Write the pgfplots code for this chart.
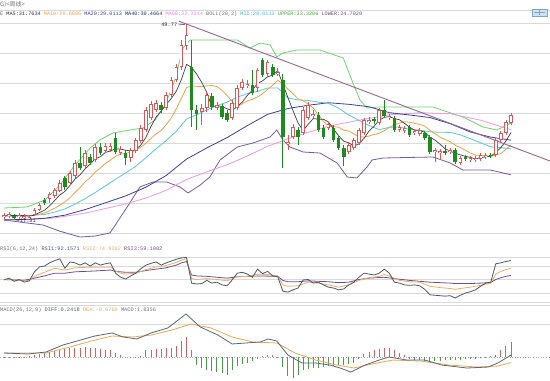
\documentclass[border=0pt]{standalone}
\usepackage{pgfplots}
\pgfplotsset{compat=1.18}
\usepackage{pgfplotstable}
\usepackage{fontspec}
\setmainfont{Liberation Sans}
\setmonofont{Liberation Mono}
\newfontfamily\cjk{Noto Sans CJK SC}

\definecolor{gridc}{HTML}{D9D9D9}
\definecolor{candR}{HTML}{D65A5A}
\definecolor{candG}{HTML}{1F8A1F}
\definecolor{maFive}{HTML}{3C3C46}
\definecolor{maTen}{HTML}{EBA24B}
\definecolor{maMid}{HTML}{5EC3DC}
\definecolor{maForty}{HTML}{3F3F8F}
\definecolor{maSixty}{HTML}{E79BE6}
\definecolor{bUp}{HTML}{72CF72}
\definecolor{bLow}{HTML}{7A5A9A}
\definecolor{trend}{HTML}{8E6A8E}
\definecolor{rsiA}{HTML}{4A5868}
\definecolor{rsiB}{HTML}{E3B071}
\definecolor{rsiC}{HTML}{6E4F84}
\definecolor{diffc}{HTML}{56687A}
\definecolor{deac}{HTML}{E8A85A}
\definecolor{barR}{HTML}{C96464}
\definecolor{barG}{HTML}{4E9A4E}
\definecolor{tgray}{HTML}{707070}
\definecolor{tdark}{HTML}{2A2A40}
\definecolor{tblue}{HTML}{3A3A9A}
\definecolor{tnavy}{HTML}{26266A}
\definecolor{tpink}{HTML}{DD88DD}
\definecolor{tcyan}{HTML}{40B8D8}
\definecolor{tgreen}{HTML}{40A840}
\definecolor{tpurp}{HTML}{6A4A8A}
\definecolor{iconF}{HTML}{CFE0F0}
\definecolor{iconB}{HTML}{7FA6C8}

\newcommand{\hf}{\ttfamily\fontsize{5.3bp}{6bp}\selectfont}

\pgfplotsset{
  panel/.style={scale only axis, width=550bp, xmin=-0.789, xmax=107.69,
    xtick=\empty, axis line style={draw=none}, major tick length=0pt,
    yticklabel=\empty, ymajorgrids, grid style={color=gridc, line width=0.8bp}},
  ebar/.style 2 args={only marks, mark=*, mark size=0pt,
    mark options={draw opacity=0, fill opacity=0}, forget plot,
    error bars/.cd, y dir=plus, y explicit, error mark=none,
    error bar style={line width=#2, color=#1, line cap=butt}},
}

% ---------- candles (i open high low close) ----------
\pgfplotstableread{
i o h l c
0 17.67 18.33 17.33 18.00
1 17.83 18.50 17.50 18.17
3 17.67 18.33 17.33 18.00
4 17.50 18.17 17.33 17.83
5 17.33 18.00 17.40 17.67
6 18.00 19.17 17.83 18.83
7 18.83 20.00 18.67 19.67
9 20.67 21.83 20.00 21.50
10 21.17 22.50 20.83 22.17
11 22.00 23.83 21.83 23.33
13 23.33 25.33 23.00 25.00
14 24.50 27.17 24.17 26.67
16 26.17 28.83 25.83 28.33
18 27.17 29.83 26.83 29.33
20 28.67 30.00 28.33 29.50
21 28.83 30.00 28.50 29.50
23 28.33 29.50 28.00 29.00
25 27.50 29.17 26.83 28.83
26 28.67 30.83 28.33 30.50
27 30.33 33.00 30.00 32.50
28 32.17 36.00 31.83 35.50
29 34.17 37.00 33.83 36.50
30 35.50 37.17 35.17 36.67
32 35.83 38.50 35.50 38.00
33 38.00 41.00 37.67 40.50
34 40.50 43.17 40.17 42.67
35 42.67 47.17 42.17 46.33
36 46.17 49.77 45.50 48.00
39 35.17 36.50 33.00 35.83
40 35.83 38.50 35.17 38.00
42 35.83 36.83 35.50 36.33
45 34.17 37.17 33.83 36.67
46 35.83 39.67 35.50 39.17
47 39.17 40.67 38.83 40.17
48 39.50 40.50 39.17 39.83
50 39.17 42.50 38.50 42.17
52 41.50 43.83 41.17 43.50
54 41.50 42.50 41.17 41.83
56 29.83 31.33 28.83 30.17
57 31.00 33.17 30.67 32.67
59 31.67 36.00 31.33 35.50
60 34.17 36.83 33.83 36.33
61 34.50 35.50 34.17 34.83
64 32.50 33.50 32.17 33.17
68 28.50 30.17 28.17 29.67
69 29.17 30.83 28.83 30.50
70 30.00 32.50 29.67 32.17
71 31.67 34.17 31.33 33.83
72 33.50 34.33 33.17 33.83
74 33.33 35.83 33.00 35.50
76 34.17 34.83 33.83 34.50
78 32.17 33.00 31.83 32.67
79 32.00 32.83 31.67 32.50
81 31.67 32.33 31.33 32.00
82 31.50 32.50 31.17 32.17
85 28.50 29.17 26.83 28.83
86 28.33 29.00 27.17 28.67
88 28.50 29.17 28.17 28.83
90 26.67 27.83 26.33 27.50
92 27.17 27.83 26.83 27.50
93 27.17 27.83 26.83 27.50
94 27.33 28.33 27.00 28.00
95 27.67 28.33 27.33 28.00
97 28.00 30.83 27.67 30.50
98 30.50 32.00 30.17 31.67
99 31.67 33.83 31.33 33.50
100 33.33 35.00 33.00 34.67
}\redc

\pgfplotstableread{
i o h l c
2 17.83 18.17 17.31 17.50
8 20.50 20.83 19.67 20.00
12 24.17 24.50 22.17 22.67
15 26.67 29.33 25.50 25.83
17 27.67 28.17 26.33 26.67
19 29.33 30.00 28.00 28.33
22 30.83 31.67 28.17 28.50
24 28.33 28.83 26.33 27.50
31 36.33 36.83 35.00 35.50
37 42.67 47.17 32.67 35.50
38 35.50 36.33 32.17 34.83
41 37.83 38.33 35.50 36.00
43 36.17 36.50 34.00 34.33
44 35.00 35.50 33.50 33.83
49 39.67 42.17 38.00 38.33
51 43.83 44.17 41.00 41.33
53 42.67 43.17 41.00 41.33
55 40.50 41.50 25.83 31.00
58 32.17 32.67 29.67 31.00
62 34.67 35.17 31.83 32.17
63 32.50 33.00 30.67 31.00
65 32.50 33.00 30.17 30.50
66 30.83 31.33 28.83 29.17
67 29.17 29.67 26.17 27.67
73 34.00 34.33 33.17 33.67
75 35.50 37.17 34.17 34.50
77 34.17 34.50 31.83 32.17
80 32.67 33.00 31.00 31.33
83 31.67 32.00 30.50 30.83
84 31.00 31.33 28.17 28.50
87 28.67 29.67 28.00 28.33
89 28.83 29.17 26.50 26.83
91 27.67 28.00 27.00 27.33
96 28.00 28.33 27.50 27.83
}\greenc

% ---------- moving averages ----------
\pgfplotstableread{
i v
0 17.92
1 17.95
2 17.90
3 17.92
4 17.90
5 17.83
6 17.97
7 18.40
8 18.80
9 19.53
10 20.43
11 21.33
12 21.93
13 22.93
14 23.97
15 24.70
16 25.70
17 26.50
18 27.37
19 27.70
20 28.43
21 28.67
22 29.03
23 28.97
24 28.80
25 28.67
26 28.87
27 29.67
28 30.97
29 32.77
30 34.33
31 35.33
32 36.43
33 37.43
34 38.67
35 40.60
36 43.10
37 42.60
38 41.47
39 40.10
40 38.43
41 36.03
42 36.20
43 36.10
44 35.70
45 35.43
46 36.07
47 36.83
48 37.93
49 38.83
50 39.93
51 40.37
52 41.03
53 41.33
54 42.03
55 39.80
56 37.57
57 35.40
58 33.33
59 32.07
60 33.13
61 34.07
62 33.97
63 33.97
64 33.50
65 32.33
66 31.20
67 30.30
68 30.03
69 29.50
70 29.83
71 30.77
72 32.00
73 32.80
74 33.80
75 34.27
76 34.40
77 34.07
78 33.87
79 33.27
80 32.63
81 32.13
82 32.13
83 31.77
84 30.97
85 30.47
86 29.80
87 29.03
88 28.63
89 28.30
90 28.03
91 27.77
92 27.60
93 27.33
94 27.57
95 27.67
96 27.80
97 28.40
98 29.23
99 30.33
100 31.76
}\mafive

\pgfplotstableread{
i v
0 17.83
5 17.85
7 18.13
8 18.35
9 18.72
10 19.13
11 19.65
12 20.17
13 20.87
14 21.75
15 22.57
16 23.52
17 24.22
18 25.15
19 25.83
20 26.57
21 27.18
22 27.77
23 28.17
24 28.25
25 28.55
26 28.77
27 29.35
28 29.97
29 30.78
30 31.50
31 32.10
32 33.05
33 34.20
34 35.72
35 37.47
36 39.22
37 39.52
38 39.45
39 39.38
40 39.52
41 39.57
42 39.40
43 38.78
44 37.90
45 36.93
46 36.05
47 36.52
48 37.02
49 37.27
50 37.68
51 38.22
52 38.93
53 39.63
54 40.43
55 39.87
56 38.97
57 38.22
58 37.33
59 37.05
60 36.47
61 35.82
62 34.68
63 33.65
64 32.78
65 32.73
66 32.63
67 32.13
68 32.00
69 31.50
70 31.08
71 30.98
72 31.15
73 31.42
74 31.65
75 32.05
76 32.58
77 33.03
78 33.33
79 33.53
80 33.45
81 33.27
82 33.10
83 32.82
84 32.12
85 31.55
86 30.97
87 30.58
88 30.20
89 29.63
90 29.25
91 28.78
92 28.32
93 27.98
94 27.93
95 27.85
96 27.77
97 27.98
98 28.27
99 28.93
100 29.69
}\maten

\pgfplotstableread{
i v
0 17.84
4 17.85
8 18.09
10 18.49
12 19.01
14 19.81
16 20.73
18 21.75
20 22.85
22 23.97
24 25.00
26 26.14
28 27.56
30 29.03
32 30.41
34 31.98
36 33.99
38 34.71
40 35.51
42 36.23
44 36.81
46 37.63
48 38.23
50 38.60
52 39.17
54 39.17
55 38.40
56 37.51
58 37.18
60 37.08
62 36.81
64 36.61
66 35.80
68 34.67
70 33.78
72 32.92
74 32.22
76 32.61
78 32.67
80 32.27
82 32.13
84 31.88
86 31.78
88 31.77
90 31.35
92 30.71
94 30.03
96 29.37
98 29.23
100 29.01
}\mamid

\pgfplotstableread{
i v
0 17.18
4 17.26
8 17.45
12 17.97
16 18.90
20 20.03
24 21.18
28 22.64
32 24.59
36 27.32
40 29.18
44 30.90
48 32.90
52 34.78
56 35.75
60 36.29
64 36.71
68 36.45
72 36.04
76 35.06
80 34.67
84 34.25
88 33.22
92 31.82
96 30.98
100 30.47
}\maforty

\pgfplotstableread{
i v
0 17.18
5 17.23
10 17.51
16 18.32
20 19.08
24 19.84
28 20.82
32 22.12
36 23.93
40 25.19
44 26.38
48 27.84
52 29.45
56 30.71
59 31.51
64 32.80
70 33.80
76 34.70
82 35.05
88 34.88
94 33.80
100 32.22
}\masixty

\pgfplotstableread{
i v
0 19.17
4.5 19.33
8.1 20.50
11 23.00
14 26.33
17 29.17
18.9 30.50
21.5 31.67
24.9 32.17
27.4 32.50
29.8 33.83
31.8 36.33
33.7 40.50
35.3 45.83
36.7 47.17
46 47.17
48.5 45.83
50.5 46.67
52.5 46.33
53.8 44.33
55 45.00
57.8 45.50
62.3 45.50
66.9 44.17
68.6 40.50
70.2 37.17
71.6 35.83
73.6 36.00
78.1 36.00
84.6 36.00
90.5 34.33
94.5 32.67
97.2 32.17
100 33.32
}\bollup

\pgfplotstableread{
i v
0 17.17
7.7 16.33
11 15.30
15 14.33
18 14.50
20.9 15.00
24.3 19.33
26.8 22.67
29.4 23.50
32.1 23.50
34.7 22.67
36.3 21.67
38.7 23.00
40.6 24.33
42.6 27.17
46 29.33
49.1 30.00
52.5 31.00
53.8 32.17
55 30.50
56.4 29.33
59 28.50
62.3 28.33
65.7 26.67
67.7 24.33
69.6 24.17
71.6 26.00
72.6 27.17
74.8 27.50
84.6 27.67
88 26.67
90.5 25.50
95.9 25.50
100 24.70
}\bolllow

% ---------- RSI ----------
\pgfplotstableread{
i v
0 49
1 53
2 46
3 50
4 44
5 47
6 67
7 78
8 80
9 87
10 92
11 96
12 75
13 89
14 87
15 82
16 87
17 80
18 87
19 82
20 85
21 87
22 64
23 55
24 51
25 58
26 64
27 74
28 82
29 86
30 89
31 82
32 87
33 91
34 95
35 98
36 99
37 42
38 40
39 41
40 48
41 42
42 44
43 38
44 36
45 49
46 64
47 66
48 62
49 55
50 73
51 63
52 68
53 58
54 56
55 24
56 22
57 27
58 31
59 49
60 50
61 42
62 44
63 38
64 33
65 31
66 27
67 29
68 38
69 44
70 55
71 64
72 62
73 60
74 64
75 73
76 64
77 44
78 42
79 38
80 37
81 38
82 36
83 28
84 16
85 15
86 14
87 13
88 14
89 9
90 15
91 20
92 23
93 27
94 35
95 42
96 44
97 85
98 87
99 90
100 92.16
}\rsione

\pgfplotstableread{
i v
0 50
2 49
4 47
5 48
6 57
8 66
10 75
12 71
14 76
16 77
18 77
20 77
21 78
22 69
23 64
24 62
26 64
28 72
30 78
32 81
34 88
35 93
36 96
37 52
38 50
40 52
42 50
44 47
46 56
48 57
50 62
52 61
54 58
55 38
56 35
58 36
60 44
62 42
64 38
66 33
68 38
70 48
72 54
74 57
75 61
76 58
78 48
80 45
82 44
84 35
86 32
88 30
89 28
90 30
92 33
94 37
96 42
97 62
98 68
99 72
100 74.92
}\rsitwo

\pgfplotstableread{
i v
0 50
4 48
6 53
8 58
10 64
12 64
14 67
18 69
21 71
22 68
24 66
26 66
28 70
30 73
32 76
34 82
35 87
36 90
37 60
38 58
40 57
44 53
46 56
50 58
54 57
55 48
56 45
58 45
60 47
64 45
66 43
68 44
70 50
72 53
75 55
77 52
80 48
84 44
88 42
89 41
92 41
96 43
97 50
98 54
99 57
100 59.11
}\rsithree

% ---------- MACD ----------
\pgfplotstableread{
i v
0 0.49
4.7 0.37
8.3 0.61
11.6 1.46
14.4 1.95
17.9 2.56
21.3 2.93
23.5 2.44
26.2 2.20
29 2.93
32.3 3.54
35.9 5.24
38.7 3.66
42.2 2.68
45 1.59
47.7 1.71
50.5 1.83
52.1 2.20
53.8 1.95
56 0.24
58.8 -0.73
61.5 -0.73
64.3 -0.98
66.3 -1.34
68.4 -1.83
71.2 -0.98
74 -0.37
75.9 0.00
79.5 -0.37
83 -0.37
86.4 -0.98
91.3 -1.34
95.5 -1.22
97.4 -0.73
100 0.2418
}\diff

\pgfplotstableread{
i v
0 0.49
8.3 0.49
13 1.22
17.2 1.95
21.3 2.56
25.4 2.44
29 2.68
33.1 3.29
36.9 4.02
40.8 3.54
45 2.44
49.1 1.83
53.8 1.71
57.4 0.49
61.5 -0.37
65.7 -0.98
69 -1.34
72.6 -0.85
76.7 -0.37
82.2 -0.49
87.8 -0.98
93.3 -1.22
97.4 -1.10
100 -0.676
}\dea

\pgfplotstableread{
i v
0 0.05
1 0.05
2 0.04
3 0.05
4 0.06
5 0.08
6 0.25
7 0.35
8 0.5
9 0.6
10 0.75
11 0.9
12 1.0
13 1.05
14 1.1
15 1.1
16 1.2
17 1.1
18 1.1
19 1.0
20 0.9
21 0.8
22 0.55
23 0.3
24 0.05
26 0.05
27 0.1
28 0.8
29 0.9
30 0.95
31 0.95
32 1.05
33 1.15
34 1.4
35 2.0
36 2.4
37 0.85
51 0.15
52 0.3
53 0.2
54 0.05
71 0.4
72 0.6
73 0.85
74 1.0
75 1.15
76 1.05
77 0.85
78 0.5
79 0.3
95 0.05
96 0.1
97 0.3
98 0.85
99 1.4
100 1.84
}\macdpos

\pgfplotstableread{
i v
25 -0.05
38 -1.0
39 -1.3
40 -1.6
41 -1.7
42 -1.8
43 -2.0
44 -2.2
45 -1.6
46 -1.1
47 -0.9
48 -0.7
49 -0.5
50 -0.3
55 -1.2
56 -2.3
57 -2.6
58 -2.2
59 -1.6
60 -1.5
61 -1.3
62 -1.3
63 -1.2
64 -1.1
65 -1.1
66 -1.0
67 -0.95
68 -0.85
69 -0.75
70 -0.2
80 -0.3
81 -0.35
82 -0.4
83 -0.45
84 -0.5
85 -0.5
86 -0.45
87 -0.4
88 -0.4
89 -0.35
90 -0.35
91 -0.3
92 -0.3
93 -0.25
94 -0.15
}\macdneg

\begin{document}
\begin{tikzpicture}
\useasboundingbox (0bp,0bp) rectangle (550bp,381bp);

% header area
\node[anchor=west, inner sep=0, text=tgray] at (0bp,376bp) {\cjk\fontsize{6bp}{7bp}\selectfont G)<周线>};
\draw[color=gridc, line width=0.8bp] (0bp,371bp) -- (550bp,371bp);
\draw[color=iconB, fill=iconF, line width=0.5bp] (532bp,364.5bp) rectangle (547bp,372bp);
\draw[color=iconB, line width=0.4bp] (534bp,368.3bp) -- (545bp,368.3bp) (539.5bp,365.5bp) -- (539.5bp,371bp);
\node[anchor=west, inner sep=0] at (0bp,366.5bp) {\ttfamily\fontsize{5.2bp}{6bp}\selectfont
\textcolor{tgray}{E} \textcolor{tdark}{MA5:31.7634} \textcolor{maTen}{MA10:29.6886} \textcolor{tblue}{MA20:29.0113} \textcolor{tnavy}{MA40:30.4664} \textcolor{tpink}{MA60:32.2214} \textcolor{tgray}{BOLL(20,2)} \textcolor{tcyan}{MID:29.0113} \textcolor{tgreen}{UPPER:33.3206} \textcolor{tpurp}{LOWER:24.7020}};

% ---------------- main price panel ----------------
\begin{axis}[panel, at={(0bp,136bp)}, anchor=south west, height=224bp,
  ymin=13, ymax=50.333, ytick={15,20,...,50}]
\draw[color=gridc, line width=0.8bp] (rel axis cs:0,0) -- (rel axis cs:1,0);
\addplot[bLow, line width=0.8bp, mark=none] table[x=i,y=v]{\bolllow};
\addplot[bUp, line width=0.8bp, mark=none] table[x=i,y=v]{\bollup};
\addplot[maSixty, line width=0.8bp, mark=none] table[x=i,y=v]{\masixty};
\addplot[maForty, line width=0.8bp, mark=none] table[x=i,y=v]{\maforty};
\addplot[maMid, line width=0.8bp, mark=none] table[x=i,y=v]{\mamid};
\addplot[maTen, line width=0.8bp, mark=none] table[x=i,y=v]{\maten};
\addplot[maFive, line width=0.7bp, mark=none] table[x=i,y=v]{\mafive};
\addplot[trend, line width=0.9bp, mark=none] coordinates {(34.5,50.3) (107.69,27.0)};
% red (rising) candles: hollow
\addplot[ebar={candR}{0.8bp}] table[x=i, y=l, y error plus expr=\thisrow{h}-\thisrow{l}]{\redc};
\addplot[ebar={candR}{3.6bp}] table[x=i, y=o, y error plus expr=\thisrow{c}-\thisrow{o}]{\redc};
\addplot[ebar={white}{2.0bp}] table[x=i, y expr=\thisrow{o}+0.13, y error plus expr={max(\thisrow{c}-\thisrow{o}-0.26,0)}]{\redc};
% green (falling) candles: filled
\addplot[ebar={candG}{0.8bp}] table[x=i, y=l, y error plus expr=\thisrow{h}-\thisrow{l}]{\greenc};
\addplot[ebar={candG}{3.6bp}] table[x=i, y=c, y error plus expr=\thisrow{o}-\thisrow{c}]{\greenc};
% extreme labels
\node[anchor=east, inner sep=0.5bp, text=tdark, font=\hf] at (axis cs:34.3,49.67) {49.77};
\draw[color=tdark, line width=0.5bp] (axis cs:34.4,49.67) -- (axis cs:35.7,49.77);
\draw[color=tdark, line width=0.5bp] (axis cs:2.2,17.31) -- (axis cs:3.0,17.0);
\node[anchor=west, inner sep=0.5bp, text=tdark, font=\hf] at (axis cs:3.0,17.0) {17.31};
\end{axis}

% ---------------- RSI panel ----------------
\node[anchor=west, inner sep=0] at (0bp,132bp) {\hf
\textcolor{tgray}{RSI(6,12,24)} \textcolor{rsiA}{RSI1:92.1571} \textcolor{rsiB}{RSI2:74.9202} \textcolor{rsiC}{RSI3:59.1082}};
\begin{axis}[panel, at={(0bp,79bp)}, anchor=south west, height=45bp,
  ymin=0, ymax=100, ytick={0,20,50,80,100}]
\addplot[rsiC, line width=0.8bp, mark=none] table[x=i,y=v]{\rsithree};
\addplot[rsiB, line width=0.8bp, mark=none] table[x=i,y=v]{\rsitwo};
\addplot[rsiA, line width=0.8bp, mark=none] table[x=i,y=v]{\rsione};
\end{axis}

% ---------------- MACD panel ----------------
\node[anchor=west, inner sep=0] at (0bp,70.5bp) {\hf
\textcolor{tgray}{MACD(26,12,9)} \textcolor{rsiA}{DIFF:0.2418} \textcolor{deac}{DEA:-0.6760} \textcolor{tgray}{MACD:1.8356}};
\begin{axis}[panel, at={(0bp,1bp)}, anchor=south west, height=75bp,
  ymin=-2.8, ymax=6.34, ytick={4},
  extra y ticks={0}, extra y tick labels={},
  extra y tick style={grid=major, major grid style={color=gray!70, line width=0.6bp, dash pattern=on 1bp off 1.6bp}}]
\draw[color=gridc, line width=0.8bp] (rel axis cs:0,0) -- (rel axis cs:1,0);
\draw[color=gridc, line width=0.8bp] (rel axis cs:0,1) -- (rel axis cs:1,1);
\addplot[ycomb, barR, line width=1bp, mark=none] table[x=i,y=v]{\macdpos};
\addplot[ycomb, barG, line width=1bp, mark=none] table[x=i,y=v]{\macdneg};
\addplot[deac, line width=0.8bp, mark=none] table[x=i,y=v]{\dea};
\addplot[diffc, line width=0.8bp, mark=none] table[x=i,y=v]{\diff};
\end{axis}
\end{tikzpicture}
\end{document}
